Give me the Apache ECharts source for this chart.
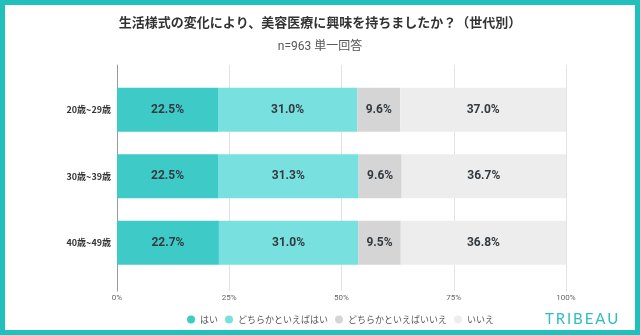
<!DOCTYPE html>
<html>
<head>
<meta charset="utf-8">
<script src="https://cdn.jsdelivr.net/npm/echarts@6/dist/echarts.min.js"></script>
<style>
html,body{margin:0;padding:0;background:#fff;}
#c{width:640px;height:335px;}
</style>
</head>
<body>
<div id="c"></div>
<script>
const categories = ['20歳~29歳', '30歳~39歳', '40歳~49歳'];
const seriesNames = ['はい', 'どちらかといえばはい', 'どちらかといえばいいえ', 'いいえ'];
const hai = [22.5, 22.5, 22.7];
const dochiraHai = [31.0, 31.3, 31.0];
const dochiraIie = [9.6, 9.6, 9.5];
const iie = [37.0, 36.7, 36.8];
const colors = ['#3ecbc8', '#78e0de', '#d5d5d5', '#ededed'];

const FONT = "Roboto, 'Noto Sans CJK JP', sans-serif";
const JP = "'Noto Sans CJK JP', sans-serif";

const chart = echarts.init(document.getElementById('c'), null, {renderer: 'canvas'});
const values = [hai, dochiraHai, dochiraIie, iie];

chart.setOption({
  animation: false,
  backgroundColor: '#fff',
  title: [
    {text: '生活様式の変化により、美容医療に興味を持ちましたか？（世代別）', left: 'center', top: 11,
     textStyle: {fontSize: 13, fontWeight: 'bold', color: '#333', fontFamily: JP}},
    {text: 'n=963 単一回答', left: 'center', top: 36,
     textStyle: {fontSize: 12, fontWeight: 'normal', color: '#555', fontFamily: FONT}}
  ],
  legend: {
    data: seriesNames, left: 182, top: 310, icon: 'circle', itemWidth: 8, itemHeight: 8, itemGap: 7,
    textStyle: {fontSize: 9, color: '#555', fontFamily: JP}
  },
  grid: [
    {left: 117, right: 74, top: 65, bottom: 44},
    {left: 117, right: 74, top: 76.5, bottom: 59}
  ],
  xAxis: [
    {gridIndex: 0, type: 'value', min: 0, max: 100, interval: 25,
     axisLine: {show: false}, axisTick: {show: false},
     splitLine: {show: true, lineStyle: {color: '#e2e2e2', width: 1}},
     axisLabel: {formatter: '{value}%', fontSize: 8, color: '#666', margin: 3, fontFamily: FONT}},
    {gridIndex: 1, type: 'value', min: 0, max: 100, show: false}
  ],
  yAxis: [
    {gridIndex: 0, type: 'value', min: 0, max: 1,
     axisLine: {show: true, lineStyle: {color: '#999', width: 1}},
     axisTick: {show: false}, axisLabel: {show: false}, splitLine: {show: false}},
    {gridIndex: 1, type: 'category', inverse: true, data: categories,
     axisLine: {show: false}, axisTick: {show: false}, splitLine: {show: false},
     axisLabel: {fontSize: 9, fontWeight: 'bold', color: '#333', margin: 6, fontFamily: JP}}
  ],
  series: values.map((arr, i) => ({
    name: seriesNames[i], type: 'bar', stack: 'total', xAxisIndex: 1, yAxisIndex: 1,
    barWidth: 44, data: arr,
    itemStyle: {color: colors[i]},
    label: {show: true, position: 'inside', formatter: p => p.value.toFixed(1) + '%',
      fontSize: 12, fontWeight: 'bold', color: '#333a40', fontFamily: FONT}
  })),
  graphic: [
    {type: 'rect', shape: {x: 2.5, y: 2.5, width: 635, height: 330},
     style: {fill: 'none', stroke: '#22c0bc', lineWidth: 5}, z: 100},
    {type: 'text', left: 545, top: 312,
     style: {text: 'T\u2009R\u2009I\u2009B\u2009E\u2009A\u2009U', fontSize: 15, fill: '#2cbfbd', fontFamily: "Lato, 'Open Sans', sans-serif", fontWeight: 'normal'}}
  ]
});
</script>
</body>
</html>
